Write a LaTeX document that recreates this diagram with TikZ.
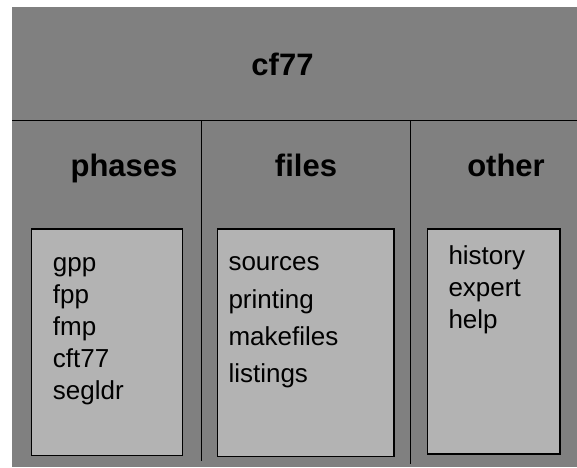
\documentclass[tikz,border=0pt]{standalone}
\usepackage{fontspec}
\setmainfont{Liberation Sans}
\definecolor{panel}{RGB}{128,128,128}
\definecolor{listbg}{RGB}{179,179,179}
\begin{document}
\begin{tikzpicture}[x=1pt,y=-1pt,
  rule/.style={black, line width=1.1pt},
  listbox/.style={draw=black, fill=listbg, line width=1.2pt},
  head/.style={font=\fontsize{31}{31}\selectfont\bfseries, anchor=base, inner sep=0pt},
  entry/.style={font=\fontsize{26}{26}\selectfont, anchor=base west, inner sep=0pt}]
\useasboundingbox (0,0) rectangle (577,467);
% grey panel with its dividing rules
\fill[panel] (12,7) rectangle (577,467);
\draw[rule] (12,120.7) -- (577,120.7);
\draw[rule] (201.7,120.7) -- (201.7,461);
\draw[rule] (410.7,120.7) -- (410.7,464);
% title and column headings
\node[head] (title) at (282.5,75) {cf77};
\node[head] (phases) at (124,176.7) {phases};
\node[head] (files) at (306,176.7) {files};
\node[head] (other) at (506,176.7) {other};
% list boxes
\draw[listbox] (31.7,229) rectangle (182.7,455.3);
\draw[listbox] (217.3,229) rectangle (394,456.5);
\draw[listbox] (427.3,229) rectangle (560,454);
% phases
\node[entry] (gpp) at (52.7,271.7) {gpp};
\node[entry] (fpp) at (52.7,303.2) {fpp};
\node[entry] (fmp) at (52.7,335.2) {fmp};
\node[entry] (cft) at (52.7,367.3) {cft77};
\node[entry] (segldr) at (52.7,399.5) {segldr};
% files
\node[entry] (sources) at (228.3,270.7) {sources};
\node[entry] (printing) at (228.3,308) {printing};
\node[entry] (makefiles) at (228.3,345.5) {makefiles};
\node[entry] (listings) at (228.3,382) {listings};
% other
\node[entry] (history) at (448.3,264.3) {history};
\node[entry] (expert) at (448.3,296.3) {expert};
\node[entry] (help) at (448.3,328.3) {help};
\end{tikzpicture}
\end{document}
